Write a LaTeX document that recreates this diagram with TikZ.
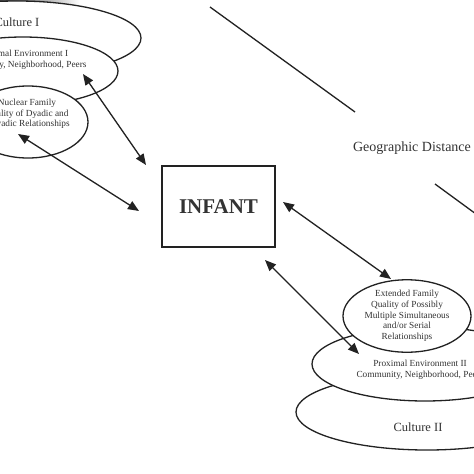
\documentclass[tikz,border=0pt]{standalone}
\usepackage{fontspec}
\setmainfont{Liberation Serif}
\usetikzlibrary{shapes.geometric,arrows.meta}
\definecolor{linec}{HTML}{222222}
\definecolor{textc}{HTML}{333333}
\begin{document}
\begin{tikzpicture}[x=1pt,y=-1pt,
  ring/.style={draw=linec, line width=1.3pt, fill=white, ellipse, inner sep=0pt},
  lab/.style={text=textc, font=\fontsize{9.3}{10.7}\selectfont, align=center, inner sep=0pt},
  biglab/.style={text=textc, font=\fontsize{12.5}{14}\selectfont, inner sep=0pt},
  link/.style={draw=linec, line width=1.3pt, {Triangle[length=11pt,width=9pt]}-{Triangle[length=11pt,width=9pt]}},
  plain/.style={draw=linec, line width=1.3pt}
  ]
\useasboundingbox (0,0) rectangle (474,474);
\clip (0,0) rectangle (474,474);
\fill[white] (0,0) rectangle (474,474);
% top-left cropped band
\shade[left color=gray!50!black, right color=white] (-5,-1) rectangle (80,4);

% left group: Culture I, Proximal I, Nuclear
\node[ring, minimum width=248pt, minimum height=74pt] (cult1) at (17,38) {};
\node[biglab] (cult1t) at (17,22) {Culture I};
\node[ring, minimum width=190pt, minimum height=68pt] (prox1) at (23,71) {};
\node[lab] (prox1t) at (23,60) {Proximal Environment I\\Community, Neighborhood, Peers};
\node[ring, minimum width=120pt, minimum height=72pt] (nuc) at (28,122) {};
\node[lab] (nuct) at (27,114) {Nuclear Family\\Quality of Dyadic and\\Polyadic Relationships};

% right group: Culture II, Proximal II, Extended
\node[ring, minimum width=262pt, minimum height=76pt] (cult2) at (427,412) {};
\node[biglab] (cult2t) at (418,427) {Culture II};
\node[ring, minimum width=226pt, minimum height=74pt] (prox2) at (425,364) {};
\node[lab] (prox2t) at (420,370) {Proximal Environment II\\Community, Neighborhood, Peers};
\node[ring, lab, minimum width=128pt, minimum height=72pt] (ext) at (407,316) {Extended Family\\Quality of Possibly\\Multiple Simultaneous\\and/or Serial\\Relationships};

% infant
\node[draw=linec, line width=1.3pt, minimum width=113pt, minimum height=81pt, inner sep=0pt,
      text=textc, font=\fontsize{21}{24}\selectfont\bfseries] (infant) at (218.5,206.5) {INFANT};

% geographic distance
\node[text=textc, font=\fontsize{14}{16}\selectfont, inner sep=0pt] (geo) at (412,148) {Geographic Distance};
\coordinate (g1a) at (210,7);
\coordinate (g1b) at (355,112);
\coordinate (g2a) at (435,184);
\coordinate (g2b) at (476,214);
\draw[plain] (g1a) -- (g1b);
\draw[plain] (g2a) -- (g2b);

% arrows
\coordinate (a1s) at (83,74);
\coordinate (a1e) at (146,165);
\coordinate (a2s) at (18,134);
\coordinate (a2e) at (139,211);
\coordinate (a3s) at (283,202);
\coordinate (a3e) at (391,279);
\coordinate (a4s) at (265,260);
\coordinate (a4e) at (359,354);
\draw[link] (a1s) -- (a1e);
\draw[link] (a2s) -- (a2e);
\draw[link] (a3s) -- (a3e);
\draw[link] (a4s) -- (a4e);
\end{tikzpicture}
\end{document}
